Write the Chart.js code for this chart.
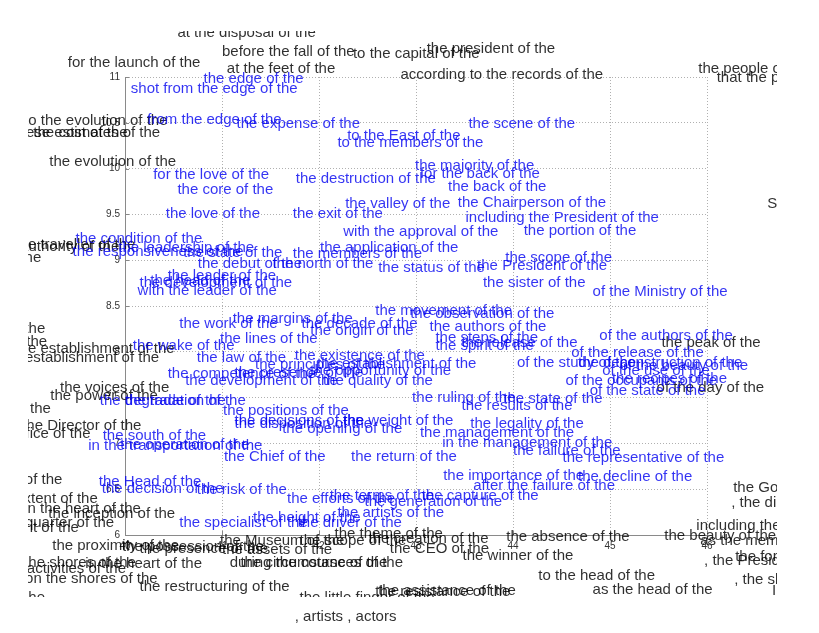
<!DOCTYPE html>
<html><head><meta charset="utf-8">
<script src="https://cdn.jsdelivr.net/npm/chart.js@4.4.0/dist/chart.umd.min.js"></script>
<style>html,body{margin:0;padding:0;background:#fff;} canvas{display:block;}</style>
</head><body>
<canvas id="c" width="819" height="633"></canvas>
<script>
// ---- data ----
const xRange = [40, 46];
const yRange = [6, 11];

const blueTexts = [
"the edge of the","shot from the edge of the","from the edge of the","the expense of the","to the East of the",
"to the members of the","the scene of the","for the love of the","the core of the","the destruction of the",
"the majority of the","for the back of the","the back of the","the love of the","the exit of the",
"the valley of the","the Chairperson of the","including the President of the","with the approval of the","the portion of the",
"the condition of the","the responsiveness of the","the leadership of the","the state of the","the members of the",
"the application of the","the scope of the","the President of the","the status of the","the debut of the",
"the north of the","the leader of the","the sister of the","of the Ministry of the","the development of the",
"the head of the","with the leader of the","the movement of the","the observation of the","the margins of the",
"the work of the","the decade of the","the origin of the","the authors of the","the steps of the",
"the spirit of the","the release of the","of the authors of the","of the release of the","of the study of the",
"the deconstruction of the","of the beauty of the","of the use of the","of the occupants of the","the recipes of the",
"of the state of the","the wake of the","the lines of the","the law of the","the existence of the",
"the principles of the","the establishment of the","the opportunity of the","the quality of the","the competence of the",
"the development of the","the presence of the","the degradation of the","the trade of the","the positions of the",
"the decisions of the","the disposition of the","the weight of the","the opening of the","the ruling of the",
"the state of the","the results of the","the legality of the","the management of the","in the management of the",
"the failure of the","the representative of the","the south of the","in the transportation of the","the operation of the",
"the Chief of the","the return of the","the importance of the","the decline of the","after the failure of the",
"the capture of the","the Head of the","the decision of the","the risk of the","the efforts of the",
"the terms of the","the generation of the","the artists of the","the specialist of the","the height of the",
"the driver of the"
];
const blueX = [
40.81,40.06,40.23,41.15,42.29,
42.19,43.54,40.29,40.54,41.76,
42.99,43.04,43.33,40.42,41.73,
42.27,43.43,43.51,42.25,44.11,
39.49,39.46,39.93,40.60,41.73,
42.01,43.92,43.63,42.61,40.75,
41.52,40.44,43.69,44.82,40.15,
40.26,40.13,42.58,42.94,41.11,
40.56,41.82,41.91,43.14,43.20,
43.20,43.47,44.89,44.60,44.04,
44.67,45.10,44.92,44.54,45.02,
44.79,40.08,40.98,40.74,41.75,
41.34,41.98,41.91,42.04,40.44,
40.62,41.13,39.74,40.00,41.01,
41.13,41.13,42.25,41.62,42.96,
43.90,43.47,43.56,43.04,43.27,
44.00,44.51,39.77,39.62,39.95,
41.02,42.33,43.28,44.67,43.59,
43.06,39.73,39.76,40.74,41.67,
42.11,42.47,42.19,40.56,41.32,
41.78
];
const blueY = [
10.93,10.83,10.49,10.44,10.31,
10.24,10.44,9.89,9.72,9.84,
9.98,9.90,9.76,9.46,9.46,
9.57,9.58,9.42,9.26,9.28,
9.19,9.05,9.09,9.03,9.02,
9.09,8.98,8.89,8.87,8.91,
8.91,8.78,8.71,8.61,8.71,
8.73,8.62,8.40,8.37,8.31,
8.26,8.26,8.18,8.23,8.11,
8.02,8.05,8.13,7.94,7.83,
7.83,7.80,7.75,7.64,7.66,
7.53,8.02,8.10,7.89,7.91,
7.81,7.82,7.75,7.64,7.71,
7.64,7.72,7.42,7.42,7.31,
7.20,7.17,7.20,7.11,7.45,
7.44,7.36,7.17,7.07,6.96,
6.87,6.80,7.04,6.93,6.94,
6.81,6.81,6.60,6.59,6.49,
6.38,6.53,6.46,6.45,6.35,
6.38,6.32,6.20,6.09,6.14,
6.09
];

const blackTexts = [
"at the disposal of the","for the launch of the","before the fall of the","at the feet of the","to the capital of the",
"the president of the","according to the records of the","the people of the","that the people of the","to the evolution of the",
"these estimates of the","twice the cost of the","the evolution of the","the authority of the","the traveller of the",
"of the","in the name of the","of the","the establishment of the","the establishment of the",
"the voices of the","the power of the","the success of the","the Director of the","the office of the",
"the peak of the","of the day of the","Sunday of the","the Government of the",", the director of the",
"the district of the","the extent of the","in the heart of the","the inception of the","the quarter of the",
"the spirit of the","the theme of the","the Museum of the","the proximity of the","the possession of the",
"the presence of the","the assets of the","the creation of the","the scope of the","the absence of the",
"the CEO of the","the winner of the","the shores of the","in the heart of the","the activities of the",
"on the shores of the","the restructuring of the","during the course of the","the circumstances of the","the little finger of the",
"the resistance of the","the assistance of the","to the head of the","as the head of the","including the members of the",
"the beauty of the","as the members of the",", the President of the","the former of the",", the slaves of the",
"In the","the"
];
const blackX = [
40.54,39.41,41.00,41.05,42.35,
43.11,42.84,45.91,46.10,38.96,
38.85,38.66,39.22,38.66,38.87,
38.75,37.94,38.81,38.87,38.71,
39.33,39.23,37.99,38.94,38.59,
45.53,45.48,46.62,46.27,46.25,
38.22,38.61,38.96,39.21,38.71,
38.51,42.16,40.98,39.25,39.97,
40.15,41.00,42.51,41.80,43.93,
42.73,43.48,38.96,39.59,38.73,
38.97,40.15,41.08,41.19,41.80,
42.58,42.61,44.26,44.82,45.89,
45.56,45.93,45.97,46.29,46.28,
46.67,38.96
];
const blackY = [
11.44,11.11,11.23,11.04,11.21,
11.26,10.98,11.04,10.95,10.48,
10.34,10.34,10.03,9.10,9.12,
8.98,8.21,8.06,7.99,7.89,
7.56,7.47,7.33,7.15,7.06,
8.05,7.56,9.57,6.47,6.31,
6.56,6.35,6.24,6.19,6.09,
6.03,5.97,5.89,5.84,5.83,
5.80,5.79,5.91,5.89,5.93,
5.80,5.73,5.65,5.64,5.59,
5.48,5.39,5.65,5.65,5.27,
5.33,5.34,5.51,5.36,6.05,
5.95,5.89,5.67,5.72,5.47,
5.34,5.27
];

const captionTexts = [", artists , actors"];
const captionX = [41.75];
const captionY = [5.06];

// ---- chart ----
const toPoints = (t, xs, ys) => t.map((s, i) => ({x: xs[i], y: ys[i], t: s}));

const textPlugin = {
  id: 'textLabels',
  afterDatasetsDraw(chart) {
    const ctx = chart.ctx;
    const xs = chart.scales.x, ys = chart.scales.y;
    // inward tick marks
    ctx.save();
    ctx.strokeStyle = '#888';
    ctx.lineWidth = 1;
    xs.ticks.forEach(t => {
      const px = Math.round(xs.getPixelForValue(t.value)) + 0.5;
      ctx.beginPath(); ctx.moveTo(px, ys.bottom); ctx.lineTo(px, ys.bottom - 4); ctx.stroke();
    });
    ys.ticks.forEach(t => {
      const py = Math.round(ys.getPixelForValue(t.value)) + 0.5;
      ctx.beginPath(); ctx.moveTo(xs.left, py); ctx.lineTo(xs.left + 4, py); ctx.stroke();
    });
    ctx.restore();

    ctx.save();
    ctx.font = '15px "Liberation Sans", Arial, sans-serif';
    ctx.textAlign = 'left';
    ctx.textBaseline = 'alphabetic';
    chart.data.datasets.forEach(ds => {
      ctx.save();
      if (!ds.noClip) { ctx.beginPath(); ctx.rect(28, 31, 749, 566); ctx.clip(); }
      ctx.fillStyle = ds.textColor;
      ds.data.forEach(p => ctx.fillText(p.t, xs.getPixelForValue(p.x), ys.getPixelForValue(p.y)));
      ctx.restore();
    });
    ctx.restore();
  }
};

const tickFont = {family: '"Liberation Sans", Arial, sans-serif', size: 10};

new Chart(document.getElementById('c'), {
  type: 'scatter',
  data: {
    datasets: [
      {label: 'black', data: toPoints(blackTexts, blackX, blackY), pointRadius: 0, textColor: 'rgba(0,0,0,0.82)'},
      {label: 'blue', data: toPoints(blueTexts, blueX, blueY), pointRadius: 0, textColor: 'rgba(0,0,240,0.8)'},
      {label: 'caption', data: toPoints(captionTexts, captionX, captionY), pointRadius: 0, textColor: 'rgba(0,0,0,0.82)', noClip: true}
    ]
  },
  options: {
    responsive: false,
    animation: false,
    devicePixelRatio: 1,
    layout: {padding: {left: 85, top: 77, right: 112, bottom: 73}},
    plugins: {legend: {display: false}, tooltip: {enabled: false}},
    scales: {
      x: {
        type: 'linear', min: xRange[0], max: xRange[1],
        afterFit: s => { s.height = 25; },
        ticks: {stepSize: 1, padding: 5, color: '#333', font: tickFont, callback: v => String(v)},
        grid: {color: '#b0b0b0', lineWidth: 1, drawTicks: false},
        border: {display: true, color: '#8a8a8a', width: 1, dash: [1, 2]}
      },
      y: {
        type: 'linear', min: yRange[0], max: yRange[1],
        afterFit: s => { s.width = 40; },
        ticks: {stepSize: 0.5, padding: 5, color: '#333', font: tickFont, callback: v => String(v)},
        grid: {color: '#b0b0b0', lineWidth: 1, drawTicks: false},
        border: {display: true, color: '#8a8a8a', width: 1, dash: [1, 2]}
      }
    }
  },
  plugins: [textPlugin]
});
</script>
</body></html>
